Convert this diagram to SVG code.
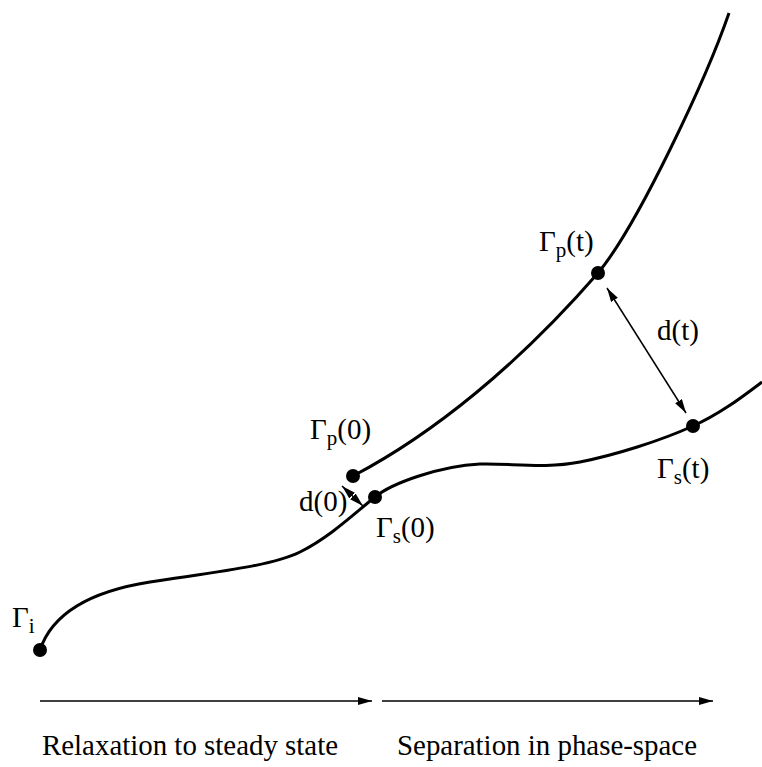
<svg xmlns="http://www.w3.org/2000/svg" width="762" height="767" viewBox="0 0 762 767">
<style>
.c{fill:none;stroke:#000;stroke-width:3}
.a{fill:none;stroke:#000;stroke-width:1.5}
.t{font-family:'Liberation Serif','Times New Roman',serif;font-size:29px;fill:#000}
.s{font-size:21px}
</style>
<defs>
<marker id="ah" viewBox="0 0 14 8" refX="14" refY="4" markerWidth="14" markerHeight="8" markerUnits="userSpaceOnUse" orient="auto-start-reverse">
<path d="M0,0L14,4L0,8z" fill="#000"/>
</marker>
</defs>
<g id="connectors">
<path class="c" d="M40,650 C50,620 80,593 150,582 C215,572 272,566 300,552 C330,537 355,513 375,497 C392,483 440,466 480,464 C510,463 545,469 580,462 C615,455 660,441 693,426 C720,414 742,397 762,382"/>
<path class="c" d="M353,476 C433,434 518,365 598,273 C638,225 707,77 729,13"/>
<line class="a" x1="342" y1="486" x2="363" y2="506" marker-start="url(#ah)" marker-end="url(#ah)"/>
<line class="a" x1="607" y1="288" x2="686" y2="413" marker-start="url(#ah)" marker-end="url(#ah)"/>
<line class="a" x1="40" y1="701" x2="372" y2="701" marker-end="url(#ah)"/>
<line class="a" x1="382" y1="701" x2="713" y2="701" marker-end="url(#ah)"/>
</g>
<g id="gi"><circle cx="40" cy="650" r="7"/><text class="t" x="12" y="627">Γ<tspan class="s" dy="6">i</tspan></text></g>
<g id="gp0"><circle cx="353" cy="476" r="7"/><text class="t" x="310" y="439">Γ<tspan class="s" dy="6">p</tspan><tspan dy="-6">(0)</tspan></text></g>
<g id="gs0"><circle cx="375" cy="497" r="7"/><text class="t" x="376" y="537">Γ<tspan class="s" dy="6">s</tspan><tspan dy="-6">(0)</tspan></text></g>
<g id="gpt"><circle cx="598" cy="273" r="7"/><text class="t" x="539" y="251">Γ<tspan class="s" dy="6">p</tspan><tspan dy="-6">(t)</tspan></text></g>
<g id="gst"><circle cx="693" cy="426" r="7"/><text class="t" x="657" y="478">Γ<tspan class="s" dy="6">s</tspan><tspan dy="-6">(t)</tspan></text></g>
<text class="t" x="299" y="511">d(0)</text>
<text class="t" x="657" y="340">d(t)</text>
<text class="t" x="42" y="755" textLength="296" lengthAdjust="spacingAndGlyphs">Relaxation to steady state</text>
<text class="t" x="397" y="755" textLength="300" lengthAdjust="spacingAndGlyphs">Separation in phase-space</text>
</svg>
